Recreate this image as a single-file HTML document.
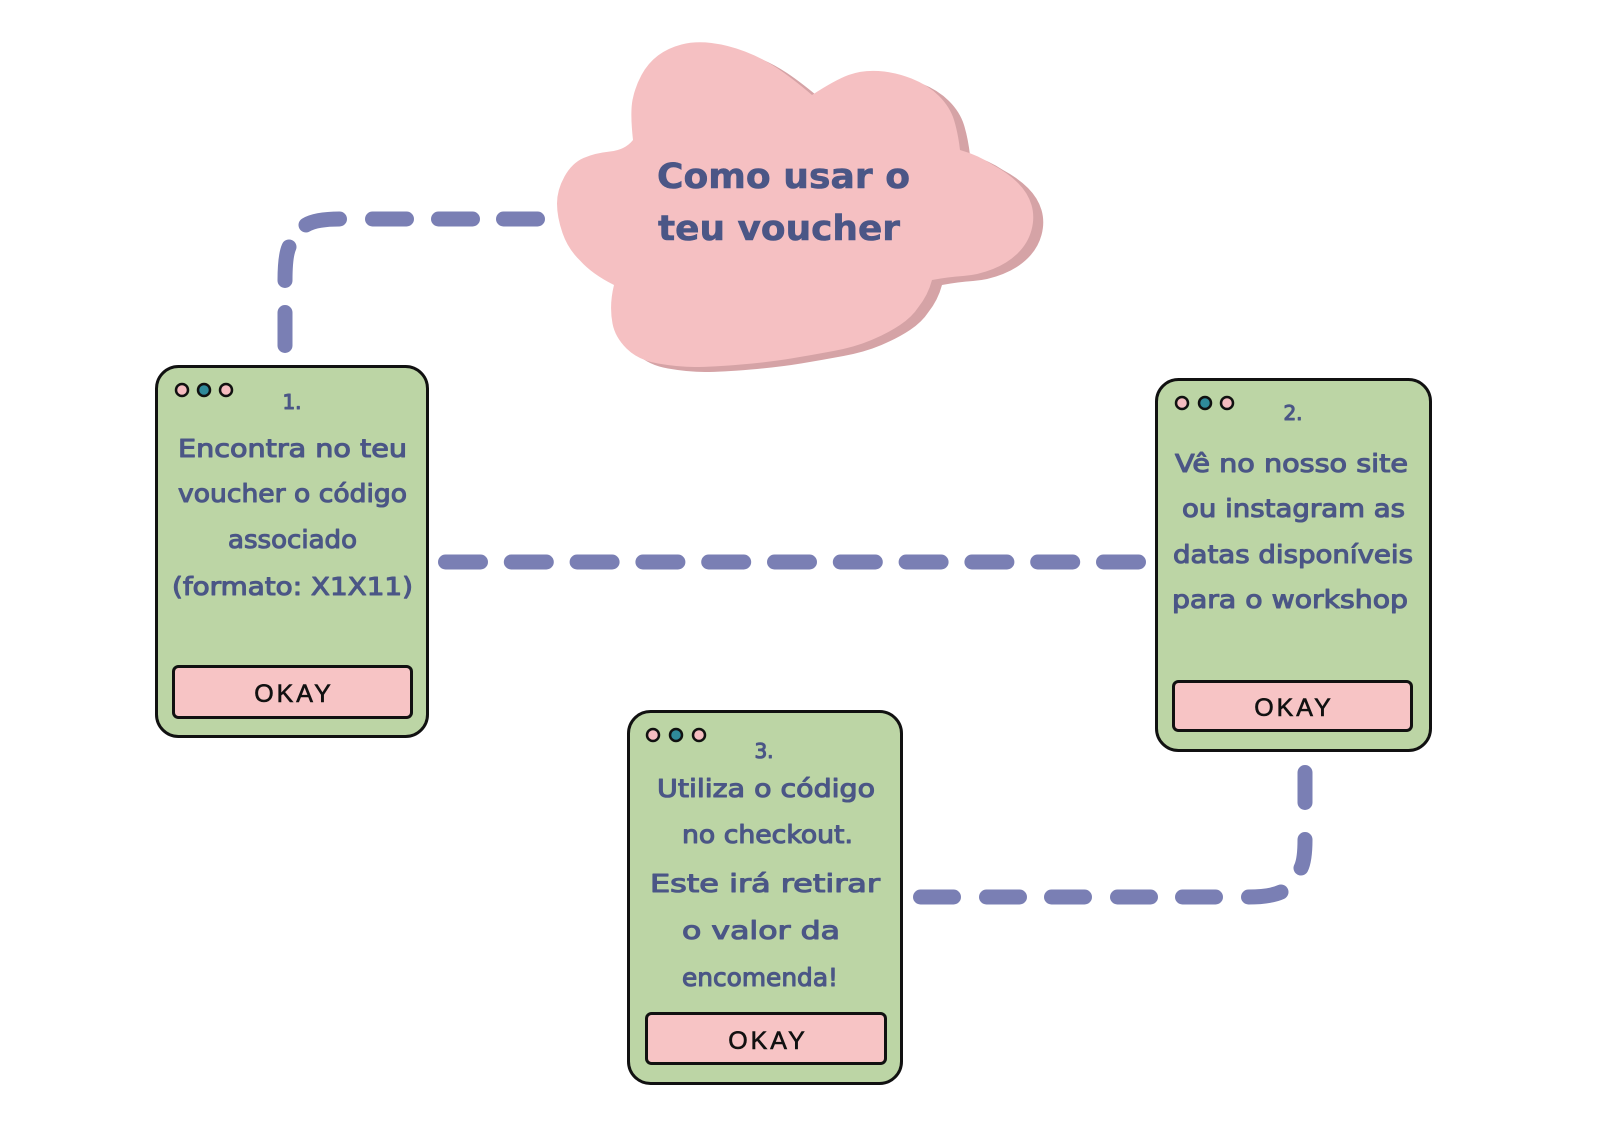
<!DOCTYPE html>
<html>
<head>
<meta charset="utf-8">
<style>
  html, body { margin: 0; padding: 0; background: #ffffff; }
  body { width: 1600px; height: 1131px; overflow: hidden; }
  svg { display: block; }
  .t { font-family: "DejaVu Sans", "Liberation Sans", sans-serif; fill: #4b5686; stroke: #4b5686; stroke-width: 1.1px; stroke-linejoin: round; }
  .h { font-family: "DejaVu Sans", "Liberation Sans", sans-serif; fill: #4b5686; stroke: #4b5686; stroke-width: 0.6px; }
  .ok { font-family: "Liberation Sans", "DejaVu Sans", sans-serif; fill: #111; stroke: #111; stroke-width: 0.6px; letter-spacing: 3px; }
</style>
</head>
<body>
<svg width="1600" height="1131" viewBox="0 0 1600 1131" xmlns="http://www.w3.org/2000/svg">
  <rect x="0" y="0" width="1600" height="1131" fill="#ffffff"/>

  <defs>
    <path id="cloud" d="M557 203.5 Q557 190 564.5 176.5 Q572 163 583.5 158 Q595 153 610 151.5 Q625 150 633 140
      Q630 113 632.5 100 Q635 87 641.5 75 Q648 63 658 55.5 Q668 48 681.5 44.5 Q695 41 711.5 43 Q728 45 745 51.5 Q762 58 777 68 Q792 78 812 95
      Q835 80 848.5 75 Q862 70 878.5 71 Q895 72 911.5 78.5 Q928 85 939 96 Q950 107 954 120 Q958 133 960 150
      Q978 155 993 165 Q1008 173 1018 183 Q1028 193 1031.5 205 Q1035 217 1031.5 230 Q1028 243 1018 253 Q1008 263 993 269 Q978 275 963 276 Q948 277 932 280
      Q928 295 918.5 307 Q912 317 900 325 Q888 333 871.5 340 Q855 347 833.5 351 Q812 355 791 358.5 Q770 362 741 364.5 Q712 367 695 367 Q678 367 658 363.5 Q638 360 626.5 348.5 Q615 337 612.5 323.5 Q609 305 614 285
      Q592 274 580 260.5 Q568 249 562.5 233 Q557 217 557 203.5 Z"/>
  </defs>

  <!-- Cloud shadow + cloud -->
  <use href="#cloud" transform="translate(10,5)" fill="#d5a3a6"/>
  <use href="#cloud" fill="#f5c0c2"/>
  <text class="h" x="783.5" y="188" font-size="35" font-weight="bold" text-anchor="middle" textLength="253" lengthAdjust="spacingAndGlyphs">Como usar o</text>
  <text class="h" x="779" y="240" font-size="35" font-weight="bold" text-anchor="middle" textLength="242" lengthAdjust="spacingAndGlyphs">teu voucher</text>

  <!-- Connectors -->
  <g stroke="#7a7fb4" stroke-width="15" stroke-linecap="round" fill="none">
    <!-- top-left connector -->
    <path d="M537.5 219 L503.5 219"/>
    <path d="M472.5 219 L438.5 219"/>
    <path d="M406.5 219 L372.5 219"/>
    <path d="M339.5 219 Q316 219 306 225"/>
    <path d="M289 247 Q285 256 285 280.5"/>
    <path d="M285 312.5 L285 345.5"/>
    <!-- middle connector -->
    <path d="M445.5 562 L480.5 562"/>
    <path d="M511.3 562 L546.3 562"/>
    <path d="M577.1 562 L612.1 562"/>
    <path d="M642.9 562 L677.9 562"/>
    <path d="M708.7 562 L743.7 562"/>
    <path d="M774.5 562 L809.5 562"/>
    <path d="M840.3 562 L875.3 562"/>
    <path d="M906.1 562 L941.1 562"/>
    <path d="M971.9 562 L1006.9 562"/>
    <path d="M1037.7 562 L1072.7 562"/>
    <path d="M1103.5 562 L1138.5 562"/>
    <!-- bottom connector -->
    <path d="M920.5 897 L953.5 897"/>
    <path d="M986.5 897 L1019.5 897"/>
    <path d="M1051.5 897 L1084.5 897"/>
    <path d="M1117.5 897 L1150.5 897"/>
    <path d="M1182.5 897 L1215.5 897"/>
    <path d="M1248.5 897 Q1270 897 1281 892"/>
    <path d="M1305 772.5 L1305 802.5"/>
    <path d="M1305 839.5 Q1305 860 1301 868"/>
  </g>

  <!-- Card 1 -->
  <rect x="156.5" y="366.5" width="271" height="370" rx="22" fill="#bcd5a5" stroke="#111" stroke-width="3"/>
  <g stroke="#111" stroke-width="2.5">
    <circle cx="182" cy="390" r="6" fill="#f5bcc0"/>
    <circle cx="204" cy="390" r="6" fill="#2f8a9a"/>
    <circle cx="226" cy="390" r="6" fill="#f5bcc0"/>
  </g>
  <text class="t" x="292" y="409" font-size="20" text-anchor="middle">1.</text>
  <text class="t" x="292.5" y="457" font-size="25" text-anchor="middle" textLength="229" lengthAdjust="spacingAndGlyphs">Encontra no teu</text>
  <text class="t" x="292.5" y="502" font-size="25" text-anchor="middle" textLength="229" lengthAdjust="spacingAndGlyphs">voucher o código</text>
  <text class="t" x="292.5" y="548" font-size="25" text-anchor="middle" textLength="129" lengthAdjust="spacingAndGlyphs">associado</text>
  <text class="t" x="292.5" y="595" font-size="25" text-anchor="middle" textLength="241" lengthAdjust="spacingAndGlyphs">(formato: X1X11)</text>
  <rect x="173.5" y="666.5" width="238" height="51" rx="5" fill="#f7c4c5" stroke="#111" stroke-width="3"/>
  <text class="ok" x="294" y="702" font-size="25" text-anchor="middle">OKAY</text>

  <!-- Card 2 -->
  <rect x="1156.5" y="379.5" width="274" height="371" rx="22" fill="#bcd5a5" stroke="#111" stroke-width="3"/>
  <g stroke="#111" stroke-width="2.5">
    <circle cx="1182" cy="403" r="6" fill="#f5bcc0"/>
    <circle cx="1205" cy="403" r="6" fill="#2f8a9a"/>
    <circle cx="1227" cy="403" r="6" fill="#f5bcc0"/>
  </g>
  <text class="t" x="1293" y="420" font-size="20" text-anchor="middle">2.</text>
  <text class="t" x="1291.5" y="472" font-size="25" text-anchor="middle" textLength="233" lengthAdjust="spacingAndGlyphs">Vê no nosso site</text>
  <text class="t" x="1293.5" y="517" font-size="25" text-anchor="middle" textLength="223" lengthAdjust="spacingAndGlyphs">ou instagram as</text>
  <text class="t" x="1293" y="563" font-size="25" text-anchor="middle" textLength="240" lengthAdjust="spacingAndGlyphs">datas disponíveis</text>
  <text class="t" x="1290" y="608" font-size="25" text-anchor="middle" textLength="236" lengthAdjust="spacingAndGlyphs">para o workshop</text>
  <rect x="1173.5" y="681.5" width="238" height="49" rx="5" fill="#f7c4c5" stroke="#111" stroke-width="3"/>
  <text class="ok" x="1294" y="716" font-size="25" text-anchor="middle">OKAY</text>

  <!-- Card 3 -->
  <rect x="628.5" y="711.5" width="273" height="372" rx="22" fill="#bcd5a5" stroke="#111" stroke-width="3"/>
  <g stroke="#111" stroke-width="2.5">
    <circle cx="653" cy="735" r="6" fill="#f5bcc0"/>
    <circle cx="676" cy="735" r="6" fill="#2f8a9a"/>
    <circle cx="699" cy="735" r="6" fill="#f5bcc0"/>
  </g>
  <text class="t" x="764" y="758" font-size="20" text-anchor="middle">3.</text>
  <text class="t" x="766" y="797" font-size="25" text-anchor="middle" textLength="218" lengthAdjust="spacingAndGlyphs">Utiliza o código</text>
  <text class="t" x="767.5" y="843" font-size="25" text-anchor="middle" textLength="171" lengthAdjust="spacingAndGlyphs">no checkout.</text>
  <text class="t" x="765" y="892" font-size="25" text-anchor="middle" textLength="230" lengthAdjust="spacingAndGlyphs">Este irá retirar</text>
  <text class="t" x="761" y="939" font-size="25" text-anchor="middle" textLength="158" lengthAdjust="spacingAndGlyphs">o valor da</text>
  <text class="t" x="760" y="986" font-size="25" text-anchor="middle" textLength="156" lengthAdjust="spacingAndGlyphs">encomenda!</text>
  <rect x="646.5" y="1013.5" width="239" height="50" rx="5" fill="#f7c4c5" stroke="#111" stroke-width="3"/>
  <text class="ok" x="768" y="1049" font-size="25" text-anchor="middle">OKAY</text>
</svg>
</body>
</html>
